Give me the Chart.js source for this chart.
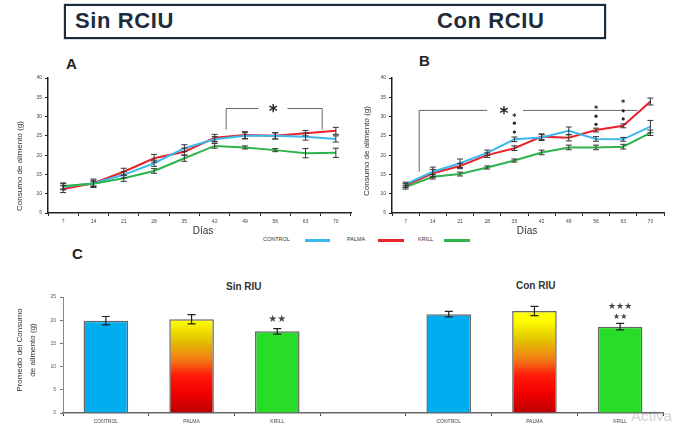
<!DOCTYPE html>
<html>
<head>
<meta charset="utf-8">
<script src="https://cdn.jsdelivr.net/npm/chart.js@4.4.1/dist/chart.umd.min.js"></script>
<style>
  html, body { margin: 0; padding: 0; }
  body { width: 680px; height: 427px; background: #fff; position: relative; overflow: hidden;
         font-family: "Liberation Sans", Arial, sans-serif; }
  canvas { position: absolute; }
  .abs { position: absolute; white-space: nowrap; }
  .box { left: 64px; top: 4px; width: 542px; height: 35px; border: 2px solid #1d2c3c; box-sizing: border-box;
         box-shadow: 0 0 1px #1d2c3c; }
  .head { font-weight: bold; font-size: 22px; color: #1d2c3c; top: 8px; letter-spacing: 0.6px; }
  .letter { font-weight: bold; font-size: 15px; color: #222; }
  .leg { font-size: 5.5px; color: #333; top: 236px; }
  .legline { height: 2.5px; top: 239px; }
  .sub { font-weight: bold; font-size: 10px; color: #333; }
</style>
</head>
<body>
<div class="abs box"></div>
<div class="abs head" style="left:75px">Sin RCIU</div>
<div class="abs head" style="left:437px">Con RCIU</div>

<div class="abs letter" style="left:66px; top:55px">A</div>
<div class="abs letter" style="left:419px; top:52px">B</div>
<div class="abs letter" style="left:72px; top:245px">C</div>

<div class="abs leg" style="left:263px">CONTROL</div>
<div class="abs legline" style="left:305px; width:25px; background:#3bb8ee"></div>
<div class="abs leg" style="left:347px">PALMA</div>
<div class="abs legline" style="left:378px; width:26px; background:#e8232b"></div>
<div class="abs leg" style="left:418px">KRILL</div>
<div class="abs legline" style="left:444px; width:26px; background:#2fb44c"></div>

<div class="abs sub" style="left:226px; top:281px">Sin RIU</div>
<div class="abs sub" style="left:516px; top:280px">Con RIU</div>

<div class="abs" style="left:631px; top:407px; font-size:15px; color:#d4d4d4">Activa</div>

<canvas id="chartA" width="355" height="170" style="left:0px; top:70px"></canvas>
<canvas id="chartB" width="325" height="170" style="left:345px; top:70px"></canvas>
<canvas id="chartC" width="680" height="142" style="left:0px; top:285px"></canvas>

<script>
// Food intake (g) per day of measurement
const days = ['7', '14', '21', '28', '35', '42', '49', '56', '63', '70'];
const yTicks = [5, 10, 15, 20, 25, 30, 35, 40];

// Without IUGR
const sinControl    = [11.8, 12.7, 14.9, 17.9, 21.8, 24.1, 25.0, 25.0, 24.8, 24.2];
const sinControlErr = [0.8, 0.8, 0.8, 0.8, 0.9, 0.7, 0.8, 0.8, 0.9, 0.8];
const sinPalma      = [11.2, 12.7, 15.7, 19.2, 20.9, 24.5, 25.2, 25.0, 25.7, 26.3];
const sinPalmaErr   = [0.9, 1.1, 0.9, 1.0, 0.9, 0.9, 0.9, 0.8, 0.7, 0.9];
const sinKrill      = [12.0, 12.6, 14.0, 15.9, 19.2, 22.4, 22.0, 21.3, 20.5, 20.6];
const sinKrillErr   = [0.8, 0.6, 0.8, 0.6, 0.8, 0.6, 0.4, 0.4, 1.2, 1.2];

// With IUGR
const conControl    = [12.5, 15.7, 17.9, 20.6, 24.1, 24.6, 26.3, 24.2, 24.1, 27.4];
const conControlErr = [0.5, 1.2, 1.1, 0.7, 0.6, 0.8, 1.0, 0.6, 0.5, 1.6];
const conPalma      = [12.1, 15.3, 17.2, 20.0, 21.8, 24.8, 24.5, 26.5, 27.6, 33.9];
const conPalmaErr   = [0.5, 1.0, 0.7, 0.6, 0.6, 0.7, 0.8, 0.5, 0.5, 0.9];
const conKrill      = [11.7, 14.4, 15.1, 16.8, 18.6, 20.7, 22.0, 22.0, 22.2, 25.8];
const conKrillErr   = [0.5, 0.6, 0.5, 0.4, 0.4, 0.6, 0.6, 0.6, 0.6, 0.7];

// Average intake per group (left: Sin RIU, right: Con RIU)
const barGroups = ['CONTROL', 'PALMA', 'KRILL', '', 'CONTROL', 'PALMA', 'KRILL'];
const barMeans  = [19.9, 20.2, 17.6, null, 21.3, 22.0, 18.6];
const barErr    = [0.9, 1.0, 0.6, null, 0.6, 1.0, 0.7];
const barTicks  = [0, 5, 10, 15, 20, 25];

const BLUE = '#3bb8ee', RED = '#e8232b', GREEN = '#2fb44c';
const AXIS = '#222';

// vertical error bars for every dataset carrying an errorBars array
const errorBarPlugin = {
  id: 'errorBars',
  afterDatasetsDraw(chart, args, opts) {
    const ctx = chart.ctx, ys = chart.scales.y;
    ctx.save();
    ctx.strokeStyle = opts.color || '#333';
    ctx.lineWidth = opts.width || 1;
    const cap = opts.cap || 3;
    chart.data.datasets.forEach((ds, di) => {
      if (!ds.errorBars) return;
      chart.getDatasetMeta(di).data.forEach((el, i) => {
        const v = ds.data[i], e = ds.errorBars[i];
        if (v == null || e == null) return;
        const x = el.x, y1 = ys.getPixelForValue(v + e), y2 = ys.getPixelForValue(v - e);
        ctx.beginPath();
        ctx.moveTo(x, y1); ctx.lineTo(x, y2);
        ctx.moveTo(x - cap, y1); ctx.lineTo(x + cap, y1);
        ctx.moveTo(x - cap, y2); ctx.lineTo(x + cap, y2);
        ctx.stroke();
      });
    });
    ctx.restore();
  }
};

// position of a fractional category index on the x scale
function catPx(xs, i) {
  const p0 = xs.getPixelForValue(0), p1 = xs.getPixelForValue(1);
  return p0 + i * (p1 - p0);
}

function rotatedText(ctx, text, x, y, font, color) {
  ctx.save();
  ctx.translate(x, y);
  ctx.rotate(-Math.PI / 2);
  ctx.font = font;
  ctx.fillStyle = color;
  ctx.textAlign = 'center';
  ctx.textBaseline = 'middle';
  ctx.fillText(text, 0, 0);
  ctx.restore();
}

// axis titles, brackets and significance marks of the line panels
const lineDecor = {
  id: 'lineDecor',
  afterDraw(chart, args, o) {
    const ctx = chart.ctx, xs = chart.scales.x, ys = chart.scales.y;
    rotatedText(ctx, 'Consumo de alimento (g)', o.titleX, o.titleY, '8px "Liberation Sans", Arial, sans-serif', '#333');
    ctx.save();
    ctx.font = '10px "Liberation Sans", Arial, sans-serif';
    ctx.fillStyle = '#333';
    ctx.textAlign = 'center';
    ctx.textBaseline = 'middle';
    ctx.fillText('Días', o.diasX, o.diasY);

    const b = o.bracket;
    ctx.strokeStyle = '#666';
    ctx.lineWidth = 1;
    const yTop = ys.getPixelForValue(b.top);
    ctx.beginPath();
    ctx.moveTo(catPx(xs, b.from), ys.getPixelForValue(b.leftBottom));
    ctx.lineTo(catPx(xs, b.from), yTop);
    ctx.lineTo(catPx(xs, b.gapFrom), yTop);
    ctx.moveTo(catPx(xs, b.gapTo), yTop);
    ctx.lineTo(catPx(xs, b.to), yTop);
    if (b.rightBottom != null) ctx.lineTo(catPx(xs, b.to), ys.getPixelForValue(b.rightBottom));
    ctx.stroke();
    ctx.font = 'bold 17px "DejaVu Sans", sans-serif';
    ctx.fillStyle = '#222';
    ctx.fillText('*', catPx(xs, b.star), yTop + 4);

    (o.marks || []).forEach(m => {
      const x = catPx(xs, m.at);
      ctx.font = 'bold 8px "DejaVu Sans", sans-serif';
      ctx.fillText('*', x, ys.getPixelForValue(m.values[0]) + 1.5);
      for (let k = 1; k < m.values.length; k++) {
        ctx.beginPath();
        ctx.arc(x, ys.getPixelForValue(m.values[k]), 1.6, 0, Math.PI * 2);
        ctx.fill();
      }
    });
    ctx.restore();
  }
};

function lineDataset(values, errors, color) {
  return { data: values, errorBars: errors, borderColor: color, backgroundColor: color,
           borderWidth: 2, pointRadius: 0, tension: 0 };
}

function lineOptions(axisWidth, padRight, decor) {
  return {
    responsive: false, animation: false, events: [],
    layout: { padding: { top: 8, right: padRight, left: 0, bottom: 0 } },
    plugins: { legend: { display: false }, tooltip: { enabled: false },
               errorBars: { color: '#333', width: 1, cap: 3 }, lineDecor: decor },
    scales: {
      x: {
        offset: true,
        grid: { offset: true, drawOnChartArea: false, tickLength: 3, color: AXIS, lineWidth: 1 },
        border: { color: AXIS, width: 1.5 },
        ticks: { font: { size: 5 }, color: '#444', padding: 3, maxRotation: 0, autoSkip: false },
        afterFit(s) { s.height = 27; }
      },
      y: {
        min: 5, max: 40,
        afterBuildTicks(s) { s.ticks = yTicks.map(v => ({ value: v })); },
        grid: { drawOnChartArea: false, tickLength: 3, color: AXIS, lineWidth: 1 },
        border: { color: AXIS, width: 1.5 },
        ticks: { font: { size: 5 }, color: '#444', padding: 3 },
        afterFit(s) { s.width = axisWidth; }
      }
    }
  };
}

new Chart(document.getElementById('chartA'), {
  type: 'line',
  data: {
    labels: days,
    datasets: [
      lineDataset(sinKrill, sinKrillErr, GREEN),
      lineDataset(sinControl, sinControlErr, BLUE),
      lineDataset(sinPalma, sinPalmaErr, RED)
    ]
  },
  options: lineOptions(48, 4, {
    titleX: 20, titleY: 96, diasX: 203, diasY: 161,
    bracket: { from: 5.38, to: 8.55, gapFrom: 6.45, gapTo: 7.4, star: 6.93,
               top: 32.1, leftBottom: 26.6, rightBottom: 26.6 }
  }),
  plugins: [errorBarPlugin, lineDecor]
});

new Chart(document.getElementById('chartB'), {
  type: 'line',
  data: {
    labels: days,
    datasets: [
      lineDataset(conKrill, conKrillErr, GREEN),
      lineDataset(conControl, conControlErr, BLUE),
      lineDataset(conPalma, conPalmaErr, RED)
    ]
  },
  options: lineOptions(47, 6, {
    titleX: 22, titleY: 81, diasX: 182, diasY: 161,
    bracket: { from: 0.5, to: 8.53, gapFrom: 3.0, gapTo: 4.32, star: 3.62,
               top: 31.6, leftBottom: 15.7, rightBottom: null },
    marks: [
      { at: 4, values: [30.0, 28.3, 26.0] },
      { at: 7, values: [32.1, 30.1, 28.0] },
      { at: 8, values: [33.6, 31.5, 29.4] }
    ]
  }),
  plugins: [errorBarPlugin, lineDecor]
});

// palm group: yellow to dark red fill down the bar
function palmaFill(chart) {
  const a = chart.chartArea;
  if (!a) return '#f08018';
  const g = chart.ctx.createLinearGradient(0, a.top, 0, a.bottom);
  g.addColorStop(0.0, '#ffff00');
  g.addColorStop(0.2, '#ffff00');
  g.addColorStop(0.37, '#e2c400');
  g.addColorStop(0.54, '#f27a16');
  g.addColorStop(0.68, '#ff1a0a');
  g.addColorStop(0.82, '#f40000');
  g.addColorStop(1.0, '#bc0000');
  return g;
}
const groupFill = { CONTROL: '#00adee', KRILL: '#27dd27' };

// y title and significance stars above the krill bars
const barDecor = {
  id: 'barDecor',
  afterDraw(chart, args, o) {
    const ctx = chart.ctx, ys = chart.scales.y;
    ctx.save();
    ctx.font = '8px "Liberation Sans", Arial, sans-serif';
    rotatedText(ctx, 'Promedio del Consumo', 20, 65, '8px "Liberation Sans", Arial, sans-serif', '#333');
    rotatedText(ctx, 'de alimento (g)', 33, 65, '8px "Liberation Sans", Arial, sans-serif', '#333');
    ctx.fillStyle = '#444';
    ctx.textAlign = 'center';
    ctx.textBaseline = 'middle';
    const meta = chart.getDatasetMeta(0);
    o.stars.forEach(s => {
      const x = meta.data[s.index].x;
      const yTop = ys.getPixelForValue(barMeans[s.index] + barErr[s.index]);
      ctx.font = s.size + 'px "DejaVu Sans", sans-serif';
      ctx.fillText(s.text, x, yTop - s.lift);
    });
    ctx.restore();
  }
};

new Chart(document.getElementById('chartC'), {
  type: 'bar',
  data: {
    labels: barGroups,
    datasets: [{
      data: barMeans,
      errorBars: barErr,
      backgroundColor: c => barGroups[c.dataIndex] === 'PALMA' ? palmaFill(c.chart) : groupFill[barGroups[c.dataIndex]],
      borderColor: '#666',
      borderWidth: 1.5,
      categoryPercentage: 1,
      barPercentage: 0.52
    }]
  },
  options: {
    responsive: false, animation: false, events: [],
    layout: { padding: { top: 12, right: 17, left: 0, bottom: 0 } },
    plugins: { legend: { display: false }, tooltip: { enabled: false },
               errorBars: { color: '#222', width: 1.2, cap: 4 },
               barDecor: { stars: [
                 { index: 2, text: '★★', size: 10, lift: 9 },
                 { index: 6, text: '★★', size: 8, lift: 7 },
                 { index: 6, text: '★★★', size: 9, lift: 17 }
               ] } },
    scales: {
      x: {
        grid: { offset: true, drawOnChartArea: false, tickLength: 3, color: '#444', lineWidth: 1 },
        border: { color: '#666', width: 1.5 },
        ticks: { font: { size: 5 }, color: '#444', padding: 3, maxRotation: 0, autoSkip: false },
        afterFit(s) { s.height = 14; }
      },
      y: {
        min: 0, max: 25,
        afterBuildTicks(s) { s.ticks = barTicks.map(v => ({ value: v })); },
        grid: { drawOnChartArea: false, tickLength: 3, color: '#777', lineWidth: 1 },
        border: { color: '#888', width: 1 },
        ticks: { font: { size: 5 }, color: '#555', padding: 4 },
        afterFit(s) { s.width = 63; }
      }
    }
  },
  plugins: [errorBarPlugin, barDecor]
});
</script>
</body>
</html>
